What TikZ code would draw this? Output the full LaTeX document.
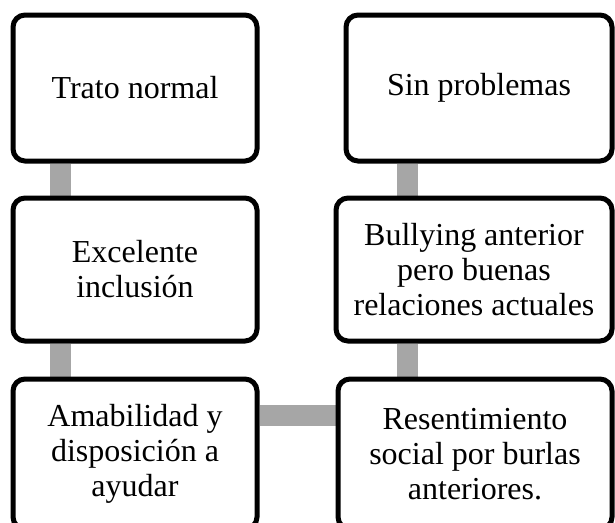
\documentclass[tikz,border=0pt]{standalone}
\usepackage{fontspec}
\setmainfont{Liberation Serif}
\usetikzlibrary{backgrounds}
\definecolor{conngray}{HTML}{A6A6A6}
\begin{document}
\begin{tikzpicture}[x=1pt,y=-1pt,
  box/.style={draw=black, line width=5pt, rounded corners=12pt, fill=white,
    align=center, inner sep=0pt,
    font=\fontsize{32}{35}\selectfont},
  conn/.style={draw=conngray, line width=21pt}]
\clip (0,0) rectangle (615,522);
\useasboundingbox (0,0) rectangle (615,522);
\node[box, minimum width=244pt, minimum height=146pt] (tl) at (135,88) {Trato normal};
\node[box, minimum width=266pt, minimum height=146pt] (tr) at (479,88) {Sin problemas};
\node[box, minimum width=244pt, minimum height=143pt] (ml) at (135,269.5) {Excelente\\inclusión};
\node[box, minimum width=276pt, minimum height=143pt] (mr) at (474,269.5) {Bullying anterior\\pero buenas\\relaciones actuales};
\node[box, minimum width=244pt, minimum height=150pt] (bl) at (135,454) {Amabilidad y\\disposición a\\ayudar};
\node[box, minimum width=274pt, minimum height=150pt] (br) at (475,454) {Resentimiento\\social por burlas\\anteriores.};
\begin{scope}[on background layer]
\draw[conn] ([xshift=50pt]tl.south west) -- ([xshift=50pt]tl.south west |- ml.north);
\draw[conn] ([xshift=50pt]ml.south west) -- ([xshift=50pt]ml.south west |- bl.north);
\draw[conn] ([xshift=64pt]tr.south west) -- ([xshift=64pt]tr.south west |- mr.north);
\draw[conn] ([xshift=64pt]tr.south west |- mr.south) -- ([xshift=64pt]tr.south west |- br.north);
\draw[conn] ([yshift=39pt]bl.east) -- ([yshift=39pt]bl.east -| br.west);
\end{scope}
\end{tikzpicture}
\end{document}
